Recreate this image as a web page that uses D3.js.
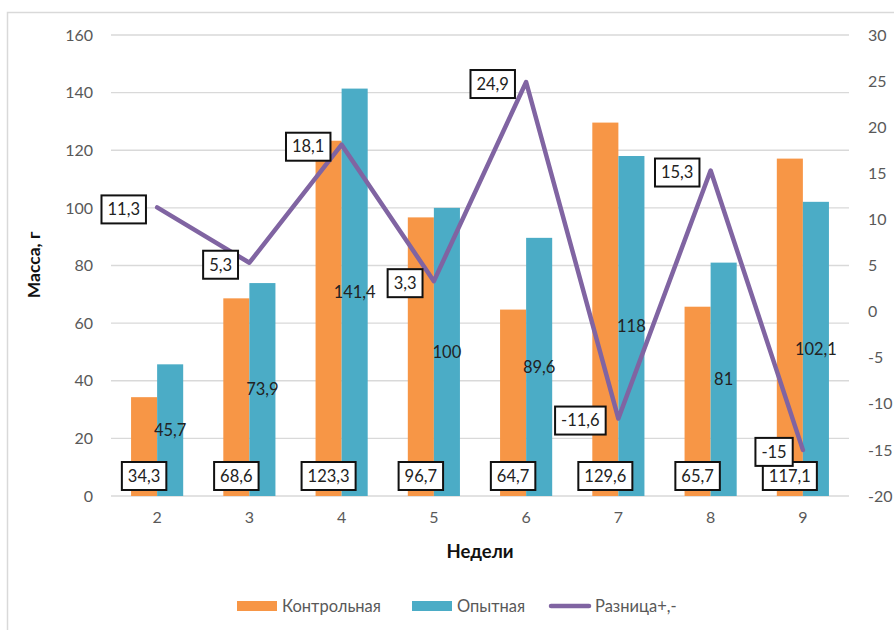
<!DOCTYPE html>
<html>
<head>
<meta charset="utf-8">
<script src="https://cdnjs.cloudflare.com/ajax/libs/d3/7.8.5/d3.min.js"></script>
<style>
  body { margin: 0; background: #fff; }
  text { font-family: Lato, "Open Sans", sans-serif; }
</style>
</head>
<body>
<div id="chart"></div>
<script>
// data
var weeks = ["2", "3", "4", "5", "6", "7", "8", "9"];
var control = [34.3, 68.6, 123.3, 96.7, 64.7, 129.6, 65.7, 117.1];
var experimental = [45.7, 73.9, 141.4, 100, 89.6, 118, 81, 102.1];
var difference = [11.3, 5.3, 18.1, 3.3, 24.9, -11.6, 15.3, -15];
var leftTicks = [0, 20, 40, 60, 80, 100, 120, 140, 160];
var rightTicks = [-20, -15, -10, -5, 0, 5, 10, 15, 20, 25, 30];
var seriesNames = ["Контрольная", "Опытная", "Разница+,-"];

var colOrange = "#F79646", colBlue = "#4BACC6", colPurple = "#8064A2";

var W = 894, H = 630;
var margin = {top: 35, right: 45, bottom: 134, left: 111};
var width = 849 - margin.left, height = 496 - margin.top;

var svg = d3.select("#chart").append("svg")
    .attr("width", W)
    .attr("height", H);

// outer chart frame
svg.append("rect")
    .attr("x", 7.5).attr("y", 12.5)
    .attr("width", W).attr("height", H)
    .attr("fill", "none")
    .attr("stroke", "#d9d9d9")
    .attr("stroke-width", 1.5);

var g = svg.append("g")
    .attr("transform", "translate(" + margin.left + "," + margin.top + ")");

var x0 = d3.scaleBand().domain(weeks).range([0, width]).paddingInner(0.435).paddingOuter(0.2175);
var x1 = d3.scaleBand().domain(["c", "e"]).range([0, x0.bandwidth()]);
var xc = function(w) { return x0(w) + x0.bandwidth() / 2; };

var yL = d3.scaleLinear().domain([0, 160]).range([height, 0]);
var yR = d3.scaleLinear().domain([-20, 30]).range([height, 0]);

var fmt = function(v) { return String(v).replace(".", ","); };

// gridlines
g.selectAll("line.grid")
    .data(leftTicks)
    .enter().append("line")
    .attr("class", "grid")
    .attr("x1", 0).attr("x2", width)
    .attr("y1", function(d) { return yL(d); })
    .attr("y2", function(d) { return yL(d); })
    .attr("stroke", "#d9d9d9")
    .attr("stroke-width", 1.3);

// left axis
var leftAxis = d3.axisLeft(yL).tickValues(leftTicks).tickFormat(fmt).tickSize(0).tickPadding(18);
var la = g.append("g").call(leftAxis);
la.select(".domain").remove();
la.selectAll("text").attr("fill", "#595959").style("font-size", "16px");

// right axis
var rightAxis = d3.axisRight(yR).tickValues(rightTicks).tickFormat(fmt).tickSize(0).tickPadding(19);
var ra = g.append("g").attr("transform", "translate(" + width + ",0)").call(rightAxis);
ra.select(".domain").remove();
ra.selectAll("text").attr("fill", "#595959").style("font-size", "16px");

// bottom axis
var bottomAxis = d3.axisBottom(x0).tickSize(0).tickPadding(16);
var ba = g.append("g").attr("transform", "translate(0," + height + ")").call(bottomAxis);
ba.select(".domain").remove();
ba.selectAll("text").attr("fill", "#595959").style("font-size", "16px");

// bars
var rows = weeks.map(function(w, i) {
    return {week: w, c: control[i], e: experimental[i], d: difference[i]};
});

g.selectAll("rect.ctrl")
    .data(rows)
    .enter().append("rect")
    .attr("class", "ctrl")
    .attr("x", function(d) { return x0(d.week) + x1("c"); })
    .attr("y", function(d) { return yL(d.c); })
    .attr("width", x1.bandwidth())
    .attr("height", function(d) { return height - yL(d.c); })
    .attr("fill", colOrange);

g.selectAll("rect.exp")
    .data(rows)
    .enter().append("rect")
    .attr("class", "exp")
    .attr("x", function(d) { return x0(d.week) + x1("e"); })
    .attr("y", function(d) { return yL(d.e); })
    .attr("width", x1.bandwidth())
    .attr("height", function(d) { return height - yL(d.e); })
    .attr("fill", colBlue);

// line
var line = d3.line()
    .x(function(d) { return xc(d.week); })
    .y(function(d) { return yR(d.d); });

g.append("path")
    .datum(rows)
    .attr("d", line)
    .attr("fill", "none")
    .attr("stroke", colPurple)
    .attr("stroke-width", 4.5)
    .attr("stroke-linejoin", "round")
    .attr("stroke-linecap", "round");

// boxed label helper
function boxLabel(cx, cy, txt) {
    var lg = g.append("g");
    var t = lg.append("text")
        .attr("x", cx).attr("y", cy)
        .attr("dy", "0.35em")
        .attr("text-anchor", "middle")
        .style("font-size", "16.5px")
        .attr("fill", "#222")
        .text(txt);
    var bb = t.node().getBBox();
    lg.insert("rect", "text")
        .attr("x", cx - bb.width / 2 - 6)
        .attr("y", cy - 14)
        .attr("width", bb.width + 12)
        .attr("height", 28)
        .attr("fill", "#fff")
        .attr("stroke", "#111")
        .attr("stroke-width", 2);
}

// blue bar labels (centre)
g.selectAll("text.elab")
    .data(rows)
    .enter().append("text")
    .attr("class", "elab")
    .attr("x", function(d) { return x0(d.week) + x1("e") + x1.bandwidth() / 2; })
    .attr("y", function(d) { return yL(d.e / 2); })
    .attr("dy", "0.35em")
    .attr("text-anchor", "middle")
    .style("font-size", "16.5px")
    .attr("fill", "#222")
    .text(function(d) { return fmt(d.e); });

// orange bar labels (inside base, boxed)
rows.forEach(function(d) {
    boxLabel(x0(d.week) + x1("c") + x1.bandwidth() / 2, yL(0) - 20, fmt(d.c));
});

// line labels (left of point, boxed)
rows.forEach(function(d) {
    var t = fmt(d.d);
    var w = t.length * 9.2 + 12;
    boxLabel(xc(d.week) - 9 - w / 2, yR(d.d) + 2, t);
});

// axis titles
svg.append("text")
    .attr("transform", "translate(34," + 265 + ") rotate(-90)")
    .attr("dy", "0.35em")
    .attr("text-anchor", "middle")
    .style("font-size", "17.5px")
    .style("font-weight", "bold")
    .attr("fill", "#111")
    .text("Масса, г");

svg.append("text")
    .attr("x", 480).attr("y", 552)
    .attr("dy", "0.35em")
    .attr("text-anchor", "middle")
    .style("font-size", "18.5px")
    .style("font-weight", "bold")
    .attr("fill", "#111")
    .text("Недели");

// legend
var legend = svg.append("g").attr("transform", "translate(237,606)");
var legX = [0, 175, 313];
seriesNames.forEach(function(name, i) {
    var item = legend.append("g").attr("transform", "translate(" + legX[i] + ",0)");
    if (i < 2) {
        item.append("rect")
            .attr("x", 0).attr("y", -5)
            .attr("width", 40).attr("height", 10)
            .attr("fill", i === 0 ? colOrange : colBlue);
    } else {
        item.append("line")
            .attr("x1", 1).attr("x2", 39)
            .attr("y1", 0).attr("y2", 0)
            .attr("stroke", colPurple)
            .attr("stroke-width", 4.5)
            .attr("stroke-linecap", "round");
    }
    item.append("text")
        .attr("x", 45).attr("y", 0)
        .attr("dy", "0.35em")
        .style("font-size", "16.5px")
        .attr("fill", "#595959")
        .text(name);
});
</script>
</body>
</html>
